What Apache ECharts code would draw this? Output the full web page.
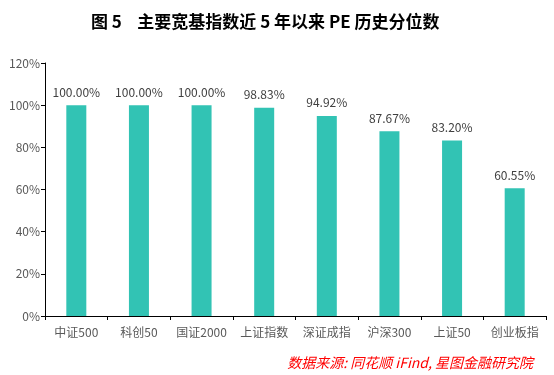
<!DOCTYPE html>
<html>
<head>
<meta charset="utf-8">
<script src="https://cdn.jsdelivr.net/npm/echarts@6/dist/echarts.min.js"></script>
<style>
  html, body { margin: 0; padding: 0; background: #fff; }
  #chart { width: 554px; height: 375px; }
</style>
</head>
<body>
<div id="chart"></div>
<script>
// 指数名称
var categories = ["中证500", "科创50", "国证2000", "上证指数", "深证成指", "沪深300", "上证50", "创业板指"];
// PE 历史分位数 (%)
var values = [100.00, 100.00, 100.00, 98.83, 94.92, 87.67, 83.20, 60.55];
// y 轴刻度
var yTicks = [0, 20, 40, 60, 80, 100, 120];

(function () {
    var myChart = echarts.init(document.getElementById("chart"));
    var font = "'Noto Sans CJK SC', 'DejaVu Sans', sans-serif";

    var option = {
        animation: false,
        title: [
            {
                text: "图 5    主要宽基指数近 5 年以来 PE 历史分位数",
                left: 86,
                top: 8,
                textStyle: {
                    fontFamily: font,
                    fontSize: 17,
                    fontWeight: "bold",
                    color: "#000"
                }
            },
            {
                text: "数据来源: 同花顺 iFind, 星图金融研究院",
                right: 16,
                top: 351,
                textStyle: {
                    fontFamily: font,
                    fontSize: 14,
                    fontStyle: "italic",
                    fontWeight: "normal",
                    color: "#ff0000"
                }
            }
        ],
        grid: {
            left: 45,
            right: 8,
            top: 63,
            bottom: 59,
            containLabel: false
        },
        xAxis: {
            type: "category",
            data: categories,
            axisLine: { lineStyle: { color: "#000", width: 1 } },
            axisTick: { show: true, length: 4, lineStyle: { color: "#000" } },
            axisLabel: {
                interval: 0,
                color: "#595959",
                fontFamily: font,
                fontSize: 12,
                margin: 10
            }
        },
        yAxis: {
            type: "value",
            min: yTicks[0],
            max: yTicks[yTicks.length - 1],
            interval: 20,
            axisLine: { show: true, lineStyle: { color: "#000", width: 1 } },
            axisTick: { show: true, length: 4, lineStyle: { color: "#000" } },
            splitLine: { show: false },
            axisLabel: {
                color: "#595959",
                fontFamily: font,
                fontSize: 12,
                margin: 5,
                formatter: "{value}%"
            }
        },
        series: [
            {
                type: "bar",
                data: values,
                barWidth: 20,
                itemStyle: { color: "#32c3b4" },
                label: {
                    show: true,
                    position: "top",
                    distance: 7,
                    color: "#404040",
                    fontFamily: font,
                    fontSize: 12,
                    formatter: function (p) {
                        return p.value.toFixed(2) + "%";
                    }
                }
            }
        ]
    };

    myChart.setOption(option);
    window.addEventListener("resize", function () {
        myChart.resize();
    });
})();
</script>
</body>
</html>
